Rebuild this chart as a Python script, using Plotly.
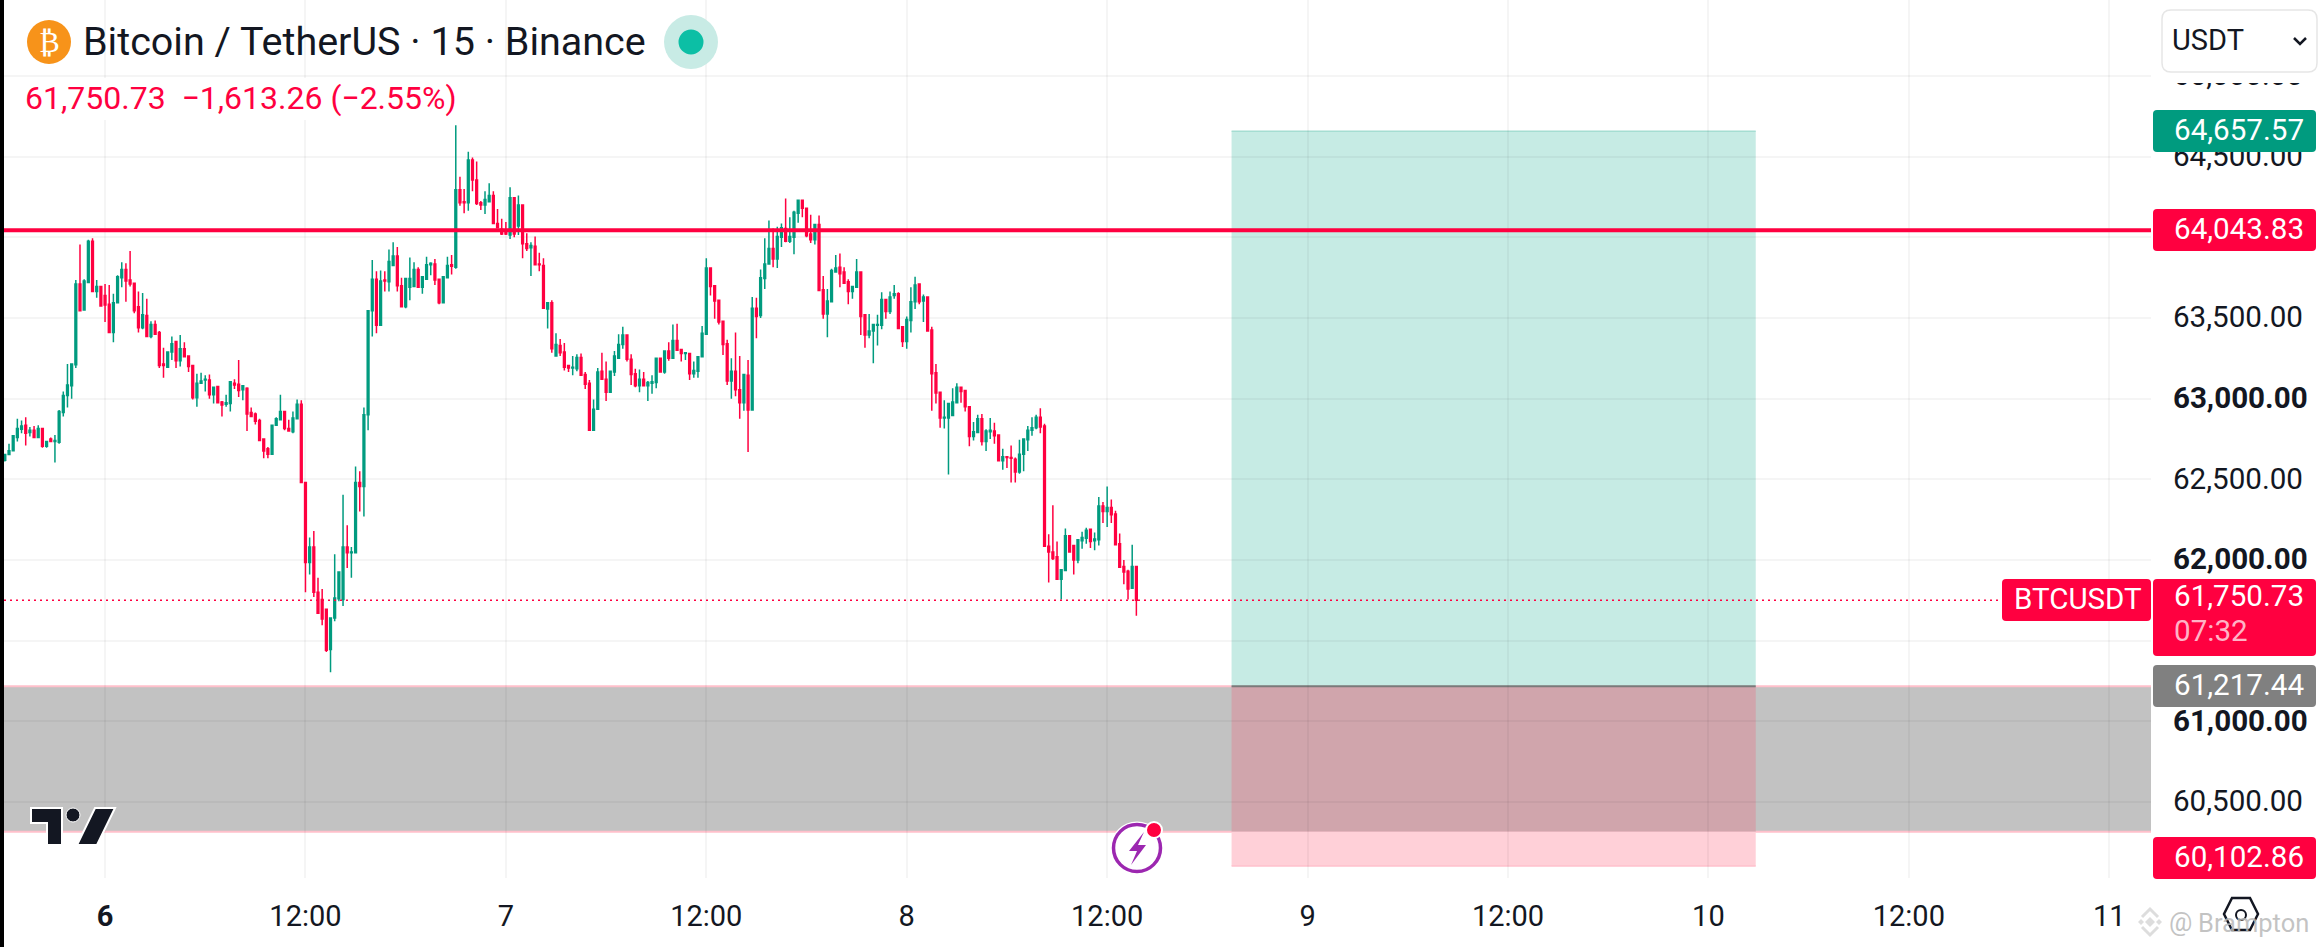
import plotly.graph_objects as go
import pandas as pd

# --- data -----------------------------------------------------------------
opens = [62618,62654,62677,62760,62810,62835,62790,62805,62760,62815,62705,62750,62735,62730,62915,63020,63080,63210,63710,63550,63720,63975,
63665,63695,63640,63585,63410,63595,63750,63800,63735,63715,63570,63440,63515,63385,63460,63410,63215,63195,63290,63355,63235,63310,63265,63205,63005,63095,63115,63115,63025,63075,62980,62965,62970,63095,63090,63055,63065,62915,62905,62865,62750,62690,62655,62835,62870,62920,62815,62795,62875,62965,
62480,61985,62080,61800,61755,61695,61445,61640,61760,61755,62080,62045,62045,62480,62455,62900,63545,63740,63455,63735,63725,63825,63885,63700,63570,63690,63695,63800,63690,63740,63830,63835,63740,63595,63750,63830,63815,64295,64220,64215,64480,64355,64215,64200,64220,64260,64085,64050,
64040,64015,64245,64070,64200,63960,63935,63945,63835,63825,63555,63595,63265,63330,63290,63205,63190,63185,63255,63150,63095,62805,62935,
63170,63120,63040,63165,63250,63335,63395,63245,63155,63080,63120,63080,63095,63100,63250,63165,63295,63250,63360,63305,63280,63280,63155,63170,63260,63400,63810,63700,63610,63480,63340,63110,63170,63055,62975,63145,62930,63560,63515,63745,63835,63930,63865,64000,64055,63975,64000,64150,64230,64180,64020,63985,64080,63675,63525,63600,63785,63815,63785,63725,63665,63690,63785,63520,63395,63420,63455,63455,63615,63540,63640,63650,63445,63355,63485,63600,63710,63605,
63630,63425,63160,63040,62880,62880,62895,62975,63070,63050,62950,62765,62790,62875,62735,62795,62800,62775,62615,62640,62635,62625,62545,62655,62745,62805,62820,62885,62830,62085,62050,62020,61880,61935,62150,62090,62000,62120,62135,62190,62120,62125,62335,62300,62325,62285,62100,61960,61930,61825,61960]
highs = [62654,62720,62775,62875,62865,62885,62825,62830,62835,62815,62735,62760,62775,62930,63045,63215,63215,63735,63955,63740,63985,63995,
63735,63700,63710,63705,63650,63765,63845,63840,63915,63715,63665,63655,63620,63480,63485,63420,63315,63290,63385,63355,63395,63350,63265,63205,63155,63160,63145,63150,63070,63080,62985,63025,63110,63120,63240,63085,63070,62945,62915,62875,62755,62700,62835,62885,63025,62920,62870,62920,62995,62990,
62485,62140,62180,61890,61820,61695,61640,62035,61925,62405,62215,62080,62580,62550,62945,63545,63860,63790,63795,63790,63925,63970,63940,63750,63745,63875,63845,63815,63755,63880,63845,63865,63740,63755,63880,63890,64695,64375,64300,64530,64495,64470,64225,64285,64335,64285,64175,64115,
64095,64310,64250,64260,64200,64025,63970,64005,63905,63870,63595,63610,63405,63370,63345,63205,63265,63275,63280,63165,63115,62995,63190,
63285,63230,63175,63295,63400,63445,63400,63275,63185,63180,63165,63110,63145,63255,63250,63300,63350,63460,63465,63310,63290,63280,63230,63260,63450,63870,63810,63705,63610,63480,63365,63250,63410,63265,63155,63240,63630,63625,63800,63995,64105,64055,64065,64085,64240,64125,64165,64230,64230,64180,64140,64080,64135,63760,63680,63805,63890,63900,63815,63740,63695,63865,63785,63525,63525,63465,63520,63660,63615,63665,63705,63660,63450,63510,63690,63755,63715,63645,
63630,63445,63215,63040,62990,62970,63065,63095,63070,63050,62950,62855,62900,62905,62810,62880,62850,62780,62690,62640,62710,62635,62745,62750,62830,62885,62900,62940,62845,62160,62340,62115,61940,62195,62150,62095,62125,62175,62200,62195,62170,62390,62360,62455,62375,62305,62165,62000,61940,62095,61960]
lows = [62610,62650,62677,62735,62785,62710,62765,62760,62760,62695,62695,62735,62605,62720,62890,62945,63000,63190,63540,63550,63715,63665,
63625,63575,63475,63410,63350,63595,63690,63600,63695,63530,63410,63430,63385,63375,63400,63190,63130,63190,63240,63190,63200,63260,63165,62995,62950,63095,63045,63000,62970,62975,62890,62950,62920,63060,63010,62990,62800,62885,62840,62740,62630,62630,62655,62835,62870,62805,62795,62785,62875,62480,
61800,61910,61770,61670,61595,61430,61305,61620,61745,61715,61950,61890,62045,62300,62270,62805,63385,63405,63455,63665,63665,63825,63665,63565,63560,63610,63695,63690,63650,63740,63765,63705,63585,63595,63750,63770,63805,64195,64150,64165,64285,64200,64170,64145,64220,64085,64060,64015,
64015,63990,64000,64015,63870,63915,63760,63825,63790,63560,63435,63285,63265,63265,63175,63165,63145,63170,63145,63060,62800,62805,62935,
63120,62985,63040,63140,63250,63310,63230,63085,63070,63040,63075,62985,63030,63065,63165,63155,63235,63250,63300,63230,63240,63115,63130,63130,63260,63395,63640,63495,63460,63270,63085,63000,63015,62875,62925,62670,62930,63375,63500,63680,63835,63815,63810,63940,63970,63965,63895,64090,64125,64000,63965,63955,63670,63495,63380,63600,63785,63690,63715,63585,63620,63690,63395,63315,63375,63220,63330,63430,63495,63525,63620,63435,63320,63310,63410,63555,63585,63475,
63420,62925,62970,62820,62815,62530,62895,62975,62975,62920,62705,62740,62790,62710,62675,62750,62720,62615,62560,62570,62480,62480,62535,62550,62675,62770,62810,62785,62085,61860,62000,61880,61755,61935,62050,61910,61980,62070,62100,62075,62060,62090,62230,62205,62230,62095,61955,61850,61755,61825,61655]
closes = [62654,62677,62770,62815,62830,62785,62805,62760,62815,62705,62735,62735,62740,62920,63020,63085,63215,63710,63545,63730,63975,63665,
63695,63575,63580,63410,63595,63755,63800,63730,63710,63545,63440,63520,63385,63460,63400,63205,63205,63290,63340,63235,63310,63260,63200,63005,63095,63110,63120,63025,63070,62975,62960,62975,63105,63085,63050,63080,62905,62890,62860,62740,62675,62655,62835,62875,62920,62815,62800,62880,62965,62480,
61985,62080,61800,61670,61635,61440,61640,61765,61925,62080,62045,62050,62480,62455,62900,63545,63740,63455,63730,63730,63850,63885,63700,63570,63745,63745,63800,63690,63755,63830,63840,63735,63595,63755,63825,63820,64295,64215,64215,64480,64355,64210,64200,64235,64260,64085,64060,64020,
64020,64245,64020,64200,63960,63930,63950,63830,63830,63560,63595,63310,63335,63285,63195,63190,63195,63255,63145,63090,62805,62935,63165,
63120,63040,63170,63265,63335,63395,63245,63150,63080,63120,63080,63100,63105,63250,63165,63295,63250,63360,63300,63280,63285,63155,63175,63260,63405,63810,63695,63605,63475,63335,63110,63170,63055,62975,63150,62930,63560,63510,63750,63835,63930,63865,64005,64060,63975,64005,64155,64230,64180,64010,63985,64080,63670,63525,63605,63795,63810,63775,63715,63665,63695,63785,63510,63395,63420,63460,63460,63615,63540,63630,63650,63435,63355,63490,63600,63705,63600,63630,
63420,63155,63035,62880,62885,62970,62980,63070,63045,62950,62765,62795,62875,62735,62800,62805,62770,62615,62640,62635,62630,62545,62655,62750,62805,62820,62885,62825,62085,62050,62010,61880,61940,62150,62050,62000,62125,62140,62185,62115,62130,62335,62300,62325,62280,62095,61955,61925,61820,61960,61750.73]
start_time = "2024-10-05 18:00"

y_ticks = [65000,64500,64000,63500,63000,62500,62000,61500,61000,60500]
y_tick_text = ["65,000.00","64,500.00","","63,500.00","<b>63,000.00</b>","62,500.00","<b>62,000.00</b>","","<b>61,000.00</b>","60,500.00"]
x_ticks = ["2024-10-06 00:00","2024-10-06 12:00","2024-10-07 00:00","2024-10-07 12:00","2024-10-08 00:00","2024-10-08 12:00",
           "2024-10-09 00:00","2024-10-09 12:00","2024-10-10 00:00","2024-10-10 12:00","2024-10-11 00:00"]
x_tick_text = ["<b>6</b>","12:00","7","12:00","8","12:00","9","12:00","10","12:00","11"]

resistance = 64043.83
last_price = 61750.73
entry = 61217.44
target = 64657.57
stop = 60102.86
zone_low = 60315
position_start = "2024-10-08 19:27"
position_end = "2024-10-10 02:50"

GREEN, RED, INK = "#009B7F", "#FF0040", "#131722"
FONT = "Roboto"
times = pd.date_range(start_time, periods=len(opens), freq="15min")

# --- pane geometry ---------------------------------------------------------
W, H = 2318, 947
L, R, B = 4, 2151, 878
YTOP, YBOT = 65471, 60029
def px(x): return (x - L) / (R - L)
def py(y): return (B - y) / B

def rbox(x0, y0, x1, y1, r=4):
    return (f"M{px(x0+r)},{py(y0)} L{px(x1-r)},{py(y0)} Q{px(x1)},{py(y0)} {px(x1)},{py(y0+r)} "
            f"L{px(x1)},{py(y1-r)} Q{px(x1)},{py(y1)} {px(x1-r)},{py(y1)} L{px(x0+r)},{py(y1)} "
            f"Q{px(x0)},{py(y1)} {px(x0)},{py(y1-r)} L{px(x0)},{py(y0+r)} Q{px(x0)},{py(y0)} {px(x0+r)},{py(y0)} Z")
def poly(pts):
    return "M" + " L".join(f"{px(a)},{py(b)}" for a, b in pts) + " Z"
def line(pts):
    return "M" + " L".join(f"{px(a)},{py(b)}" for a, b in pts)
def circle(cx, cy, r, **kw):
    return dict(type="circle", xref="paper", yref="paper", x0=px(cx-r), x1=px(cx+r), y0=py(cy+r), y1=py(cy-r), layer="above", **kw)
def path(d, fill="rgba(0,0,0,0)", color="rgba(0,0,0,0)", w=0, layer="above"):
    return dict(type="path", xref="paper", yref="paper", path=d, fillcolor=fill, line=dict(color=color, width=w), layer=layer)
def text(x, y, s, size=29.6, color=INK, anchor="left"):
    return dict(xref="paper", yref="paper", x=px(x), y=py(y), text=s, showarrow=False, xanchor=anchor, yanchor="middle",
                font=dict(family=FONT, size=size, color=color), borderpad=0)
def hrect(x0, x1, y0, y1, fill, xref="x"):
    return dict(type="rect", xref=xref, yref="y", x0=x0, x1=x1, y0=y0, y1=y1, fillcolor=fill, line=dict(width=0), layer="below")
def hline(x0, x1, y, color, width, xref="x", layer="below", dash="solid"):
    return dict(type="line", xref=xref, yref="y", x0=x0, x1=x1, y0=y, y1=y, line=dict(color=color, width=width, dash=dash), layer=layer)

shapes = [
    # gray zone
    hrect(0, 1, zone_low, entry, "#C2C2C2", "paper"),
    # long position
    hrect(position_start, position_end, entry, target, "#C6EBE4"),
    hrect(position_start, position_end, zone_low, entry, "#D0A5AC"),
    hrect(position_start, position_end, stop, zone_low, "#FFD0D8"),
    hline(0, 1, entry, "#FFC0CB", 2, "paper"),
    hline(0, 1, zone_low, "#FFC0CB", 2, "paper"),
    hline(position_start, position_end, entry, "#7A7A7A", 2),
    hline(position_start, position_end, target, "#A5DDD2", 1.5),
    hline(position_start, position_end, stop, "#FFC0CC", 1.5),
    # price lines
    hline(0, 1, resistance, RED, 4, "paper", "above"),
    hline(0, px(2002), last_price, RED, 1.5, "paper", "above", "2px,4px"),
    # strips
    path(poly([(0,0),(4,0),(4,947),(0,947)]), fill="#000000"),
    path(poly([(2152,0),(2318,0),(2318,83),(2152,83)]), fill="#FFFFFF"),
    path(poly([(4,78),(470,78),(470,120),(4,120)]), fill="#FFFFFF"),
    # select box
    path(rbox(2162,10,2317,72,9), fill="#FFFFFF", color="#E6E6E6", w=1.5),
    path(line([(2294,38),(2300,44),(2306,38)]), color="#131722", w=2.5),
    # price labels
    path(rbox(2153,110,2316,152), fill=GREEN),
    path(rbox(2153,209,2316,251), fill=RED),
    path(rbox(2153,579,2316,656), fill=RED),
    path(rbox(2002,579,2151,621), fill=RED),
    path(rbox(2153,665,2316,707), fill="#808080"),
    path(rbox(2153,837,2316,879), fill=RED),
    # header icons
    circle(49,42,22, fillcolor="#F7931A", line=dict(width=0)),
    circle(691,42,27, fillcolor="#C8EBE5", line=dict(width=0)),
    circle(691,42,12.5, fillcolor="#0CBFA5", line=dict(width=0)),
    # TradingView logo
    path(poly([(31,808),(62,808),(62,845),(47,845),(47,823),(31,823)]), fill="#131722", color="#FFFFFF", w=2),
    circle(73,815,7, fillcolor="#131722", line=dict(color="#FFFFFF", width=1)),
    path(poly([(115,808),(97,845),(77,845),(95,808)]), fill="#131722", color="#FFFFFF", w=2),
    # lightning badge
    circle(1137,848,25, fillcolor="#FFFFFF", line=dict(color="#FFFFFF", width=3)),
    circle(1137,848,23.5, fillcolor="#FFFFFF", line=dict(color="#9C27B0", width=3.5)),
    path(poly([(1144,832),(1129,851),(1137,851),(1131,865),(1146,845),(1138,845)]), fill="#9C27B0"),
    circle(1154,830,8, fillcolor=RED, line=dict(color="#FFFFFF", width=2)),
    # settings hexagon
    path(poly([(2232,898),(2250,898),(2258,914),(2250,930),(2232,930),(2224,914)]), fill="#FFFFFF", color="#131722", w=2.5),
    circle(2241,915,5, fillcolor="#FFFFFF", line=dict(color="#131722", width=2)),
    # watermark diamond
    path(poly([(2150,917),(2155,922),(2150,927),(2145,922)]), fill="#DDDDDD"),
    path(poly([(2141,919),(2144,922),(2141,925),(2138,922)]), fill="#DDDDDD"),
    path(poly([(2159,919),(2162,922),(2159,925),(2156,922)]), fill="#DDDDDD"),
    path(line([(2142,917),(2150,909),(2158,917)]), color="#DDDDDD", w=3),
    path(line([(2142,927),(2150,935),(2158,927)]), color="#DDDDDD", w=3),
]

annotations = [
    text(82,41,"Bitcoin / TetherUS · 15 · Binance",39.5),
    text(49,42,"₿",30,"#FFFFFF","center"),
    text(24,98,"61,750.73  −1,613.26 (−2.55%)",32,RED),
    text(2171,40,"USDT",29,INK),
    text(2173,129.5,"64,657.57",29.6,"#FFFFFF"),
    text(2173,228.5,"64,043.83",29.6,"#FFFFFF"),
    text(2173,596,"61,750.73",29.6,"#FFFFFF"),
    text(2173,631,"07:32",29.6,"#FFB3C6"),
    text(2013,599,"BTCUSDT",29.5,"#FFFFFF"),
    text(2173,684.5,"61,217.44",29.6,"#FFFFFF"),
    text(2173,856.5,"60,102.86",29.6,"#FFFFFF"),
    text(2180,922,"@",26,"rgba(185,185,185,0.85)","center"),
    text(2197,923,"Brampton",25.5,"rgba(185,185,185,0.85)"),
]

fig = go.Figure(go.Candlestick(
    x=times, open=opens, high=highs, low=lows, close=closes, whiskerwidth=0,
    increasing=dict(line=dict(color=GREEN, width=1.5), fillcolor=GREEN),
    decreasing=dict(line=dict(color=RED, width=1.5), fillcolor=RED),
))
fig.update_layout(
    width=W, height=H, autosize=False, showlegend=False, boxgap=0.4,
    paper_bgcolor="#FFFFFF", plot_bgcolor="#FFFFFF",
    margin=dict(l=L, r=W-R, t=0, b=H-B, pad=0),
    font=dict(family=FONT, size=29, color=INK),
    xaxis=dict(type="date", range=["2024-10-05 17:57","2024-10-11 02:30"], rangeslider=dict(visible=False),
               tickmode="array", tickvals=x_ticks, ticktext=x_tick_text, tickangle=0,
               ticks="outside", ticklen=12, tickcolor="rgba(0,0,0,0)", tickfont=dict(family=FONT, size=29, color=INK),
               showgrid=True, gridcolor="rgba(0,0,0,0.04)", gridwidth=2, zeroline=False, showline=False),
    yaxis=dict(side="right", range=[YBOT, YTOP], tickmode="array", tickvals=y_ticks, ticktext=y_tick_text,
               ticks="outside", ticklen=15, ticklabelshift=-1, tickcolor="rgba(0,0,0,0)", tickfont=dict(family=FONT, size=29.6, color=INK),
               showgrid=True, gridcolor="rgba(0,0,0,0.04)", gridwidth=2, zeroline=False, showline=False),
    shapes=shapes, annotations=annotations,
)
fig.write_html("out.html", config={"displayModeBar": False},
               post_script="document.body.style.margin='0';document.body.style.overflow='hidden';")
